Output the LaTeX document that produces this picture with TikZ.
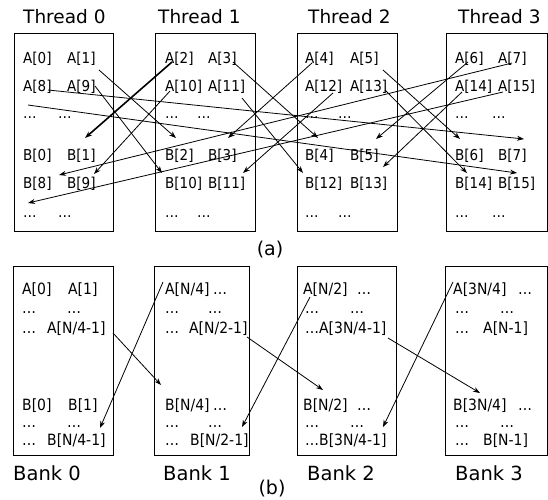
\documentclass[tikz,border=0pt]{standalone}
\usepackage{fontspec}
\setmainfont{DejaVu Sans}
\newfontfamily\cellfont{DejaVu Sans}[FakeStretch=0.9]
\usetikzlibrary{arrows.meta}

\begin{document}
\begin{tikzpicture}[x=1pt,y=-1pt,
  panel/.style={draw, line width=1.1pt, inner sep=0pt, anchor=north west},
  cell/.style={anchor=base west, inner sep=0pt, font=\cellfont\fontsize{15}{15}\selectfont},
  bcell/.style={cell, font=\cellfont\fontsize{15.5}{15.5}\selectfont},
  head/.style={anchor=base west, inner sep=0pt, font=\fontsize{18.5}{18.5}\selectfont},
  bankhead/.style={head, font=\fontsize{19.5}{19.5}\selectfont},
  tag/.style={anchor=base, inner sep=0pt, font=\fontsize{19}{19}\selectfont},
  link/.style={-{Stealth[length=7pt,width=5pt]}, line width=0.8pt},
  boldlink/.style={link, line width=1.6pt}
]
\useasboundingbox (0,0) rectangle (548,499);

% ---------- (a) thread boxes ----------
\node[panel, minimum width=99pt,  minimum height=198pt] (T0) at (14,33)  {};
\node[panel, minimum width=100pt, minimum height=198pt] (T1) at (155,33) {};
\node[panel, minimum width=100pt, minimum height=198pt] (T2) at (297,33) {};
\node[panel, minimum width=101pt, minimum height=198pt] (T3) at (446,33) {};

\node[head] (h0) at (23,23)  {Thread 0};
\node[head] (h1) at (158,23) {Thread 1};
\node[head] (h2) at (308,23) {Thread 2};
\node[head] (h3) at (458,23) {Thread 3};

% Thread 0
\node[cell] (a0)  at (23,63)  {A[0]};
\node[cell] (a1)  at (67,63)  {A[1]};
\node[cell] (a8)  at (23,91)  {A[8]};
\node[cell] (a9)  at (67,91)  {A[9]};
\node[cell] (a16) at (23,118) {…};
\node[cell] (a17) at (58,118) {…};
\node[cell] (b0)  at (23,160) {B[0]};
\node[cell] (b1)  at (67,160) {B[1]};
\node[cell] (b8)  at (23,188) {B[8]};
\node[cell] (b9)  at (67,188) {B[9]};
\node[cell] (b16) at (23,217) {…};
\node[cell] (b17) at (58,217) {…};
% Thread 1
\node[cell] (a2)  at (165,63)  {A[2]};
\node[cell] (a3)  at (208,63)  {A[3]};
\node[cell] (a10) at (165,91)  {A[10]};
\node[cell] (a11) at (208,91)  {A[11]};
\node[cell] (a18) at (165,118) {…};
\node[cell] (a19) at (197,118) {…};
\node[cell] (b2)  at (165,160) {B[2]};
\node[cell] (b3)  at (208,160) {B[3]};
\node[cell] (b10) at (165,188) {B[10]};
\node[cell] (b11) at (208,188) {B[11]};
\node[cell] (b18) at (165,217) {…};
\node[cell] (b19) at (197,217) {…};
% Thread 2
\node[cell] (a4)  at (305,63)  {A[4]};
\node[cell] (a5)  at (350,63)  {A[5]};
\node[cell] (a12) at (305,91)  {A[12]};
\node[cell] (a13) at (350,91)  {A[13]};
\node[cell] (a20) at (305,118) {…};
\node[cell] (a21) at (338,118) {…};
\node[cell] (b4)  at (305,160) {B[4]};
\node[cell] (b5)  at (350,160) {B[5]};
\node[cell] (b12) at (305,188) {B[12]};
\node[cell] (b13) at (350,188) {B[13]};
\node[cell] (b20) at (305,217) {…};
\node[cell] (b21) at (338,217) {…};
% Thread 3
\node[cell] (a6)  at (455,63)  {A[6]};
\node[cell] (a7)  at (498,63)  {A[7]};
\node[cell] (a14) at (455,91)  {A[14]};
\node[cell] (a15) at (498,91)  {A[15]};
\node[cell] (a22) at (455,118) {…};
\node[cell] (a23) at (492,118) {…};
\node[cell] (b6)  at (455,160) {B[6]};
\node[cell] (b7)  at (498,160) {B[7]};
\node[cell] (b14) at (455,188) {B[14]};
\node[cell] (b15) at (498,188) {B[15]};
\node[cell] (b22) at (455,217) {…};
\node[cell] (b23) at (492,217) {…};

% pairwise swaps A[2k-1] <-> A[2k]
\draw[link]     ([shift={(32,7)}]a1.base west)   -- ([shift={(11,-22)}]b2.base west);
\draw[boldlink] ([shift={(7,-1)}]a2.base west)   -- ([shift={(18,-22)}]b1.base west);
\draw[link]     ([shift={(25,-1)}]a3.base west)  -- ([shift={(13,-22)}]b4.base west);
\draw[link]     ([shift={(7,0)}]a4.base west)    -- ([shift={(20,-22)}]b3.base west);
\draw[link]     ([shift={(33,7)}]a5.base west)   -- ([shift={(5,-21)}]b6.base west);
\draw[link]     ([shift={(13,-1)}]a6.base west)  -- ([shift={(26,-21)}]b5.base west);
\draw[link]     ([shift={(14,0)}]a7.base west)   -- ([shift={(36,-13)}]b8.base west);
\draw[link]     ([shift={(25,-1)}]a8.base west)  -- ([shift={(26,-21)}]b7.base west);
\draw[link]     ([shift={(28,-5)}]a9.base west)  -- ([shift={(-3,-15)}]b10.base west);
\draw[link]     ([shift={(5,0)}]a10.base west)   -- ([shift={(27,-14)}]b9.base west);
\draw[link]     ([shift={(34,7)}]a11.base west)  -- ([shift={(-2,-15)}]b12.base west);
\draw[link]     ([shift={(28,2)}]a12.base west)  -- ([shift={(35,-15)}]b11.base west);
\draw[link]     ([shift={(35,-1)}]a13.base west) -- ([shift={(12,-15)}]b14.base west);
\draw[link]     ([shift={(7,1)}]a14.base west)   -- ([shift={(33,-21)}]b13.base west);
\draw[link]     ([shift={(5,1)}]a15.base west)   -- ([shift={(5,-14)}]b16.base west);
\draw[link]     ([shift={(5,-13)}]a16.base west) -- ([shift={(19,-15)}]b15.base west);

\node[tag] (capa) at (270,255) {(a)};

% ---------- (b) bank boxes ----------
\node[panel, minimum width=100pt, minimum height=189pt] (K0) at (13,266)  {};
\node[panel, minimum width=95pt,  minimum height=189pt] (K1) at (154,266) {};
\node[panel, minimum width=99pt,  minimum height=189pt] (K2) at (297,266) {};
\node[panel, minimum width=102pt, minimum height=189pt] (K3) at (445,266) {};

% Bank 0
\node[bcell] (k0r1a) at (22,294)  {A[0]};
\node[bcell] (k0r1b) at (68,294)  {A[1]};
\node[bcell] (k0r2a) at (22,313)  {…};
\node[bcell] (k0r2b) at (67,313)  {…};
\node[bcell] (k0r3a) at (22,333)  {…};
\node[bcell] (k0r3b) at (47,333)  {A[N/4-1]};
\node[bcell] (k0s1a) at (22,410)  {B[0]};
\node[bcell] (k0s1b) at (68,410)  {B[1]};
\node[bcell] (k0s2a) at (22,427)  {…};
\node[bcell] (k0s2b) at (67,427)  {…};
\node[bcell] (k0s3a) at (22,445)  {…};
\node[bcell] (k0s3b) at (47,445)  {B[N/4-1]};
% Bank 1
\node[bcell] (k1r1a) at (165,294) {A[N/4]};
\node[bcell] (k1r1b) at (213,294) {…};
\node[bcell] (k1r2a) at (165,313) {…};
\node[bcell] (k1r2b) at (208,313) {…};
\node[bcell] (k1r3a) at (165,333) {…};
\node[bcell] (k1r3b) at (189,333) {A[N/2-1]};
\node[bcell] (k1s1a) at (165,410) {B[N/4]};
\node[bcell] (k1s1b) at (213,410) {…};
\node[bcell] (k1s2a) at (165,427) {…};
\node[bcell] (k1s2b) at (208,427) {…};
\node[bcell] (k1s3a) at (165,445) {…};
\node[bcell] (k1s3b) at (190,445) {B[N/2-1]};
% Bank 2
\node[bcell] (k2r1a) at (303,294) {A[N/2]};
\node[bcell] (k2r1b) at (357,294) {…};
\node[bcell] (k2r2a) at (305,313) {…};
\node[bcell] (k2r2b) at (350,313) {…};
\node[bcell] (k2r3a) at (305,333) {…};
\node[bcell] (k2r3b) at (319,333) {A[3N/4-1]};
\node[bcell] (k2s1a) at (303,410) {B[N/2]};
\node[bcell] (k2s1b) at (357,410) {…};
\node[bcell] (k2s2a) at (305,427) {…};
\node[bcell] (k2s2b) at (350,427) {…};
\node[bcell] (k2s3a) at (305,445) {…};
\node[bcell] (k2s3b) at (319,445) {B[3N/4-1]};
% Bank 3
\node[bcell] (k3r1a) at (453,294) {A[3N/4]};
\node[bcell] (k3r1b) at (518,294) {…};
\node[bcell] (k3r2a) at (455,313) {…};
\node[bcell] (k3r2b) at (500,313) {…};
\node[bcell] (k3r3a) at (455,333) {…};
\node[bcell] (k3r3b) at (483,333) {A[N-1]};
\node[bcell] (k3s1a) at (453,410) {B[3N/4]};
\node[bcell] (k3s1b) at (518,410) {…};
\node[bcell] (k3s2a) at (455,427) {…};
\node[bcell] (k3s2b) at (500,427) {…};
\node[bcell] (k3s3a) at (455,445) {…};
\node[bcell] (k3s3b) at (483,445) {B[N-1]};

% bank-boundary crossings
\draw[link] ([shift={(-2,-12)}]k1r1a.base west) -- ([shift={(53,-17)}]k0s3b.base west);
\draw[link] ([shift={(66,0)}]k0r3b.base west)   -- ([shift={(-4,-25)}]k1s1a.base west);
\draw[link] ([shift={(7,3)}]k2r1a.base west)    -- ([shift={(52,-18)}]k1s3b.base west);
\draw[link] ([shift={(58,4)}]k1r3b.base west)   -- ([shift={(20,-20)}]k2s1a.base west);
\draw[link] ([shift={(0,-12)}]k3r1a.base west)  -- ([shift={(64,-18)}]k2s3b.base west);
\draw[link] ([shift={(69,5)}]k2r3b.base west)   -- ([shift={(27,-17)}]k3s1a.base west);

\node[bankhead] (g0) at (13,480)  {Bank 0};
\node[bankhead] (g1) at (163,480) {Bank 1};
\node[bankhead] (g2) at (307,480) {Bank 2};
\node[bankhead] (g3) at (455,480) {Bank 3};

\node[tag] (capb) at (272,494) {(b)};
\end{tikzpicture}
\end{document}
